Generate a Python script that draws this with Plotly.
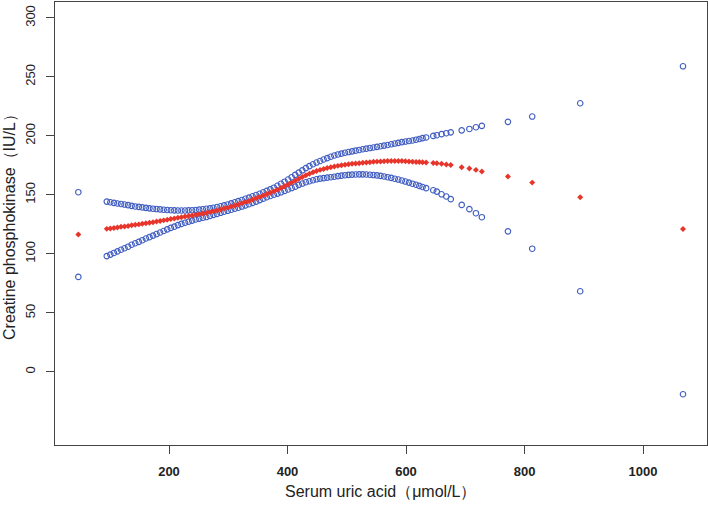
import plotly.graph_objects as go

# x positions (serum uric acid, µmol/L)
uric_acid = [47,
    95,101,107,113,119,125,131,137,143,149,155,161,167,173,179,185,191,197,203,209,
    215,221,227,233,239,245,251,257,263,269,275,281,287,293,299,305,311,317,323,329,
    335,341,347,353,359,365,371,377,383,389,395,401,407,413,419,425,431,437,443,449,
    455,461,467,473,479,485,491,497,503,509,515,521,527,533,539,545,551,557,563,569,
    575,581,587,593,599,605,
    611,617,622.5,628,634,646,652,660,668,675.5,694,707,718,728,772,813,894,1067.5]

# fitted creatine phosphokinase (IU/L)
cpk_fit = [116.4,
    121.2,121.6,122.0,122.4,122.9,123.3,123.7,124.2,124.6,125.0,125.5,126.0,126.4,126.9,127.4,127.9,128.4,129.0,129.5,130.0,
    130.6,131.1,131.6,132.1,132.6,133.2,133.7,134.2,134.7,135.4,136.1,136.8,137.6,138.4,139.2,140.1,141.0,141.9,142.9,143.9,
    144.9,146.0,147.1,148.3,149.5,150.7,151.9,153.1,154.4,155.8,157.3,158.8,160.4,162.0,163.7,165.2,166.7,168.0,169.2,170.3,
    171.2,172.0,172.7,173.4,174.0,174.6,175.1,175.6,176.0,176.3,176.6,176.9,177.2,177.5,177.7,178.0,178.2,178.4,178.6,178.7,
    178.8,178.8,178.8,178.7,178.5,178.3,
    178.1,177.9,177.8,177.6,177.4,177.1,176.9,176.3,175.8,175.3,173.5,172.3,171.2,169.9,165.5,160.4,148.0,121.0]

# upper confidence bound
cpk_upper = [152.3,
    144.3,143.8,143.2,142.7,142.3,141.8,141.3,140.7,140.2,139.8,139.4,139.0,138.6,138.3,138.0,137.7,137.4,137.2,137.0,136.9,
    136.8,136.8,136.8,136.9,137.0,137.2,137.5,137.8,138.2,138.6,139.1,139.7,140.4,141.1,141.9,142.8,143.7,144.7,145.7,146.7,
    147.7,148.8,149.9,151.0,152.2,153.4,154.7,156.1,157.7,159.4,161.2,163.0,165.0,167.0,168.9,170.8,172.7,174.4,176.0,177.4,
    178.7,180.0,181.2,182.3,183.4,184.3,185.0,185.7,186.3,186.9,187.5,188.1,188.7,189.2,189.7,190.2,190.7,191.2,191.8,192.3,
    192.9,193.5,194.1,194.7,195.2,195.7,
    196.1,196.8,197.4,198.1,198.7,200.0,200.6,201.5,202.3,203.0,204.7,205.9,207.3,208.5,211.9,216.4,227.7,259.0]

# lower confidence bound
cpk_lower = [80.5,
    98.1,99.4,100.8,102.1,103.5,104.8,106.1,107.7,109.0,110.2,111.6,113.0,114.2,115.5,116.8,118.1,119.4,120.8,122.0,123.1,
    124.4,125.4,126.4,127.3,128.2,129.2,129.9,130.6,131.2,132.2,133.1,133.9,134.8,135.7,136.5,137.4,138.3,139.1,140.1,141.1,
    142.1,143.2,144.3,145.6,146.8,148.0,149.1,150.1,151.1,152.2,153.4,154.6,155.8,157.0,158.5,159.6,160.7,161.6,162.4,163.2,
    163.8,164.2,164.6,165.0,165.4,165.9,166.3,166.7,167.0,167.2,167.3,167.4,167.4,167.3,167.1,166.8,166.5,166.1,165.6,165.0,
    164.4,163.7,163.0,162.2,161.3,160.4,
    159.5,158.6,157.6,156.7,155.7,153.9,152.8,150.5,148.6,146.4,141.5,137.9,134.5,131.1,119.1,104.4,68.3,-19.0]

x_ticks = [200, 400, 600, 800, 1000]
y_ticks = [0, 50, 100, 150, 200, 250, 300]

BLUE = "#3f5cc0"
RED = "#e8352b"
FONT = "Liberation Sans, Arial, sans-serif"

fig = go.Figure()
for ys in (cpk_upper, cpk_lower):
    fig.add_trace(go.Scatter(
        x=uric_acid, y=ys, mode="markers",
        marker=dict(symbol="circle-open", size=5.5, color=BLUE, line=dict(width=1.1, color=BLUE)),
        showlegend=False, hoverinfo="skip"))
fig.add_trace(go.Scatter(
    x=uric_acid, y=cpk_fit, mode="markers",
    marker=dict(symbol="diamond", size=4.6, color=RED, line=dict(width=0)),
    showlegend=False, hoverinfo="skip"))

axis_common = dict(showgrid=False, zeroline=False, showline=True, mirror=True,
                   linecolor="#444444", linewidth=1, ticks="outside", ticklen=8,
                   tickwidth=1, tickcolor="#444444", automargin=False)

fig.update_layout(
    width=708, height=512,
    margin=dict(l=55, r=1, t=2, b=67),
    paper_bgcolor="white", plot_bgcolor="white",
    font=dict(family=FONT, color="#222222"),
    xaxis=dict(range=[7.6, 1108], tickvals=x_ticks, ticktext=[str(v) for v in x_ticks],
               tickfont=dict(family=FONT, size=13, color="#222222", weight="bold"),
               ticklabelstandoff=6, **axis_common),
    yaxis=dict(range=[-62, 313.5], tickvals=y_ticks, ticktext=[str(v) for v in y_ticks],
               tickangle=-90, tickfont=dict(family=FONT, size=13, color="#222222"),
               ticklabelstandoff=6, **axis_common),
    annotations=[
        dict(text="Serum uric acid（μmol/L）", xref="paper", yref="paper",
             x=0.5, y=0, yshift=-36, xanchor="center", yanchor="top",
             showarrow=False, font=dict(family=FONT, size=16, color="#222222")),
        dict(text="Creatine phosphokinase（IU/L）", xref="paper", yref="paper",
             x=0, y=0.5, xshift=-35, xanchor="right", yanchor="middle", textangle=-90,
             showarrow=False, font=dict(family=FONT, size=16, color="#222222")),
    ],
)

fig.write_html("out.html", config={"displayModeBar": False},
               post_script="document.body.style.margin='0';document.body.style.overflow='hidden';")
